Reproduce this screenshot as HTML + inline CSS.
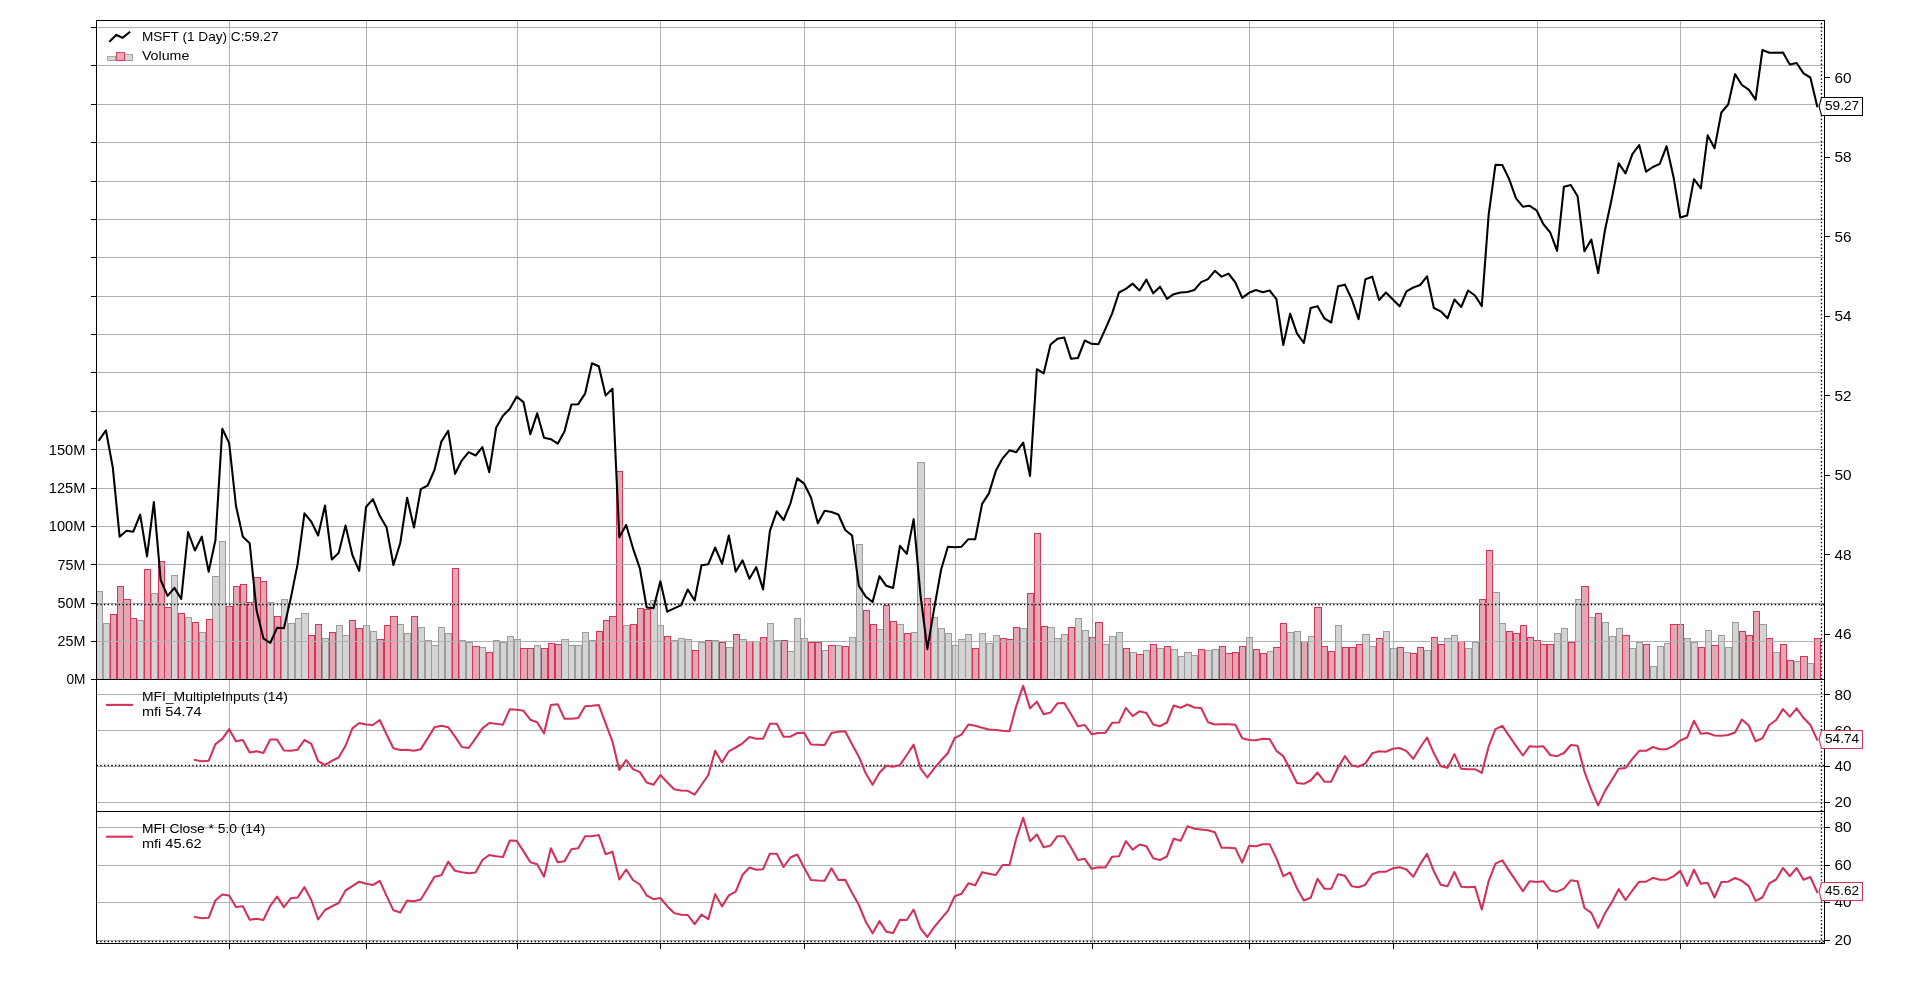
<!DOCTYPE html>
<html><head><meta charset="utf-8"><title>MSFT chart</title>
<style>html,body{margin:0;padding:0;background:#fff;overflow:hidden}svg{display:block}text{filter:grayscale(1)}</style></head>
<body>
<svg width="1920" height="993" viewBox="0 0 1920 993" font-family="'Liberation Sans', sans-serif">
<rect width="1920" height="993" fill="#fff"/>
<defs>
<clipPath id="c1"><rect x="96.5" y="20.5" width="1728.0" height="659.0"/></clipPath>
<clipPath id="c2"><rect x="96.5" y="679.5" width="1728.0" height="132.0"/></clipPath>
<clipPath id="c3"><rect x="96.5" y="811.5" width="1728.0" height="132.0"/></clipPath>
</defs>
<g clip-path="url(#c1)" shape-rendering="crispEdges">
<path d="M96.5 591.5H102.5V679.5H96.5ZM103.5 623.5H109.5V679.5H103.5ZM137.5 620.5H143.5V679.5H137.5ZM151.5 593.5H157.5V679.5H151.5ZM171.5 575.5H177.5V679.5H171.5ZM185.5 617.5H191.5V679.5H185.5ZM199.5 632.5H205.5V679.5H199.5ZM212.5 576.5H219.5V679.5H212.5ZM219.5 541.5H225.5V679.5H219.5ZM267.5 602.5H273.5V679.5H267.5ZM281.5 599.5H287.5V679.5H281.5ZM288.5 623.5H294.5V679.5H288.5ZM295.5 618.5H301.5V679.5H295.5ZM301.5 613.5H308.5V679.5H301.5ZM322.5 638.5H328.5V679.5H322.5ZM336.5 625.5H342.5V679.5H336.5ZM342.5 635.5H349.5V679.5H342.5ZM363.5 625.5H369.5V679.5H363.5ZM370.5 631.5H376.5V679.5H370.5ZM397.5 624.5H403.5V679.5H397.5ZM404.5 633.5H410.5V679.5H404.5ZM418.5 627.5H424.5V679.5H418.5ZM425.5 640.5H431.5V679.5H425.5ZM431.5 645.5H438.5V679.5H431.5ZM438.5 627.5H444.5V679.5H438.5ZM445.5 633.5H451.5V679.5H445.5ZM459.5 640.5H465.5V679.5H459.5ZM466.5 642.5H472.5V679.5H466.5ZM479.5 647.5H485.5V679.5H479.5ZM493.5 640.5H499.5V679.5H493.5ZM500.5 642.5H506.5V679.5H500.5ZM507.5 636.5H513.5V679.5H507.5ZM514.5 639.5H520.5V679.5H514.5ZM534.5 645.5H540.5V679.5H534.5ZM561.5 639.5H568.5V679.5H561.5ZM568.5 645.5H574.5V679.5H568.5ZM575.5 645.5H581.5V679.5H575.5ZM582.5 632.5H588.5V679.5H582.5ZM589.5 640.5H595.5V679.5H589.5ZM623.5 625.5H629.5V679.5H623.5ZM650.5 600.5H657.5V679.5H650.5ZM657.5 625.5H663.5V679.5H657.5ZM671.5 640.5H677.5V679.5H671.5ZM678.5 638.5H684.5V679.5H678.5ZM685.5 639.5H691.5V679.5H685.5ZM698.5 642.5H705.5V679.5H698.5ZM712.5 640.5H718.5V679.5H712.5ZM726.5 647.5H732.5V679.5H726.5ZM739.5 639.5H746.5V679.5H739.5ZM753.5 641.5H759.5V679.5H753.5ZM767.5 623.5H773.5V679.5H767.5ZM774.5 640.5H780.5V679.5H774.5ZM787.5 651.5H794.5V679.5H787.5ZM794.5 618.5H800.5V679.5H794.5ZM801.5 638.5H807.5V679.5H801.5ZM822.5 650.5H828.5V679.5H822.5ZM835.5 645.5H841.5V679.5H835.5ZM849.5 637.5H855.5V679.5H849.5ZM856.5 544.5H862.5V679.5H856.5ZM876.5 629.5H883.5V679.5H876.5ZM897.5 624.5H903.5V679.5H897.5ZM911.5 632.5H917.5V679.5H911.5ZM917.5 462.5H924.5V679.5H917.5ZM931.5 617.5H937.5V679.5H931.5ZM938.5 628.5H944.5V679.5H938.5ZM945.5 633.5H951.5V679.5H945.5ZM952.5 645.5H958.5V679.5H952.5ZM958.5 639.5H965.5V679.5H958.5ZM965.5 634.5H971.5V679.5H965.5ZM979.5 633.5H985.5V679.5H979.5ZM986.5 643.5H992.5V679.5H986.5ZM993.5 635.5H999.5V679.5H993.5ZM1020.5 628.5H1026.5V679.5H1020.5ZM1047.5 627.5H1054.5V679.5H1047.5ZM1054.5 638.5H1060.5V679.5H1054.5ZM1061.5 634.5H1067.5V679.5H1061.5ZM1075.5 618.5H1081.5V679.5H1075.5ZM1082.5 630.5H1088.5V679.5H1082.5ZM1102.5 644.5H1108.5V679.5H1102.5ZM1109.5 636.5H1115.5V679.5H1109.5ZM1116.5 632.5H1122.5V679.5H1116.5ZM1130.5 652.5H1136.5V679.5H1130.5ZM1143.5 650.5H1149.5V679.5H1143.5ZM1157.5 648.5H1163.5V679.5H1157.5ZM1171.5 649.5H1177.5V679.5H1171.5ZM1178.5 656.5H1184.5V679.5H1178.5ZM1184.5 652.5H1191.5V679.5H1184.5ZM1191.5 655.5H1197.5V679.5H1191.5ZM1205.5 650.5H1211.5V679.5H1205.5ZM1212.5 649.5H1218.5V679.5H1212.5ZM1246.5 637.5H1252.5V679.5H1246.5ZM1267.5 651.5H1273.5V679.5H1267.5ZM1287.5 632.5H1293.5V679.5H1287.5ZM1294.5 631.5H1300.5V679.5H1294.5ZM1308.5 636.5H1314.5V679.5H1308.5ZM1335.5 625.5H1341.5V679.5H1335.5ZM1362.5 634.5H1369.5V679.5H1362.5ZM1369.5 646.5H1375.5V679.5H1369.5ZM1383.5 631.5H1389.5V679.5H1383.5ZM1390.5 648.5H1396.5V679.5H1390.5ZM1403.5 652.5H1410.5V679.5H1403.5ZM1424.5 650.5H1430.5V679.5H1424.5ZM1444.5 638.5H1451.5V679.5H1444.5ZM1451.5 635.5H1457.5V679.5H1451.5ZM1465.5 648.5H1471.5V679.5H1465.5ZM1472.5 642.5H1478.5V679.5H1472.5ZM1492.5 592.5H1499.5V679.5H1492.5ZM1499.5 623.5H1505.5V679.5H1499.5ZM1554.5 633.5H1560.5V679.5H1554.5ZM1561.5 628.5H1567.5V679.5H1561.5ZM1575.5 599.5H1581.5V679.5H1575.5ZM1588.5 617.5H1594.5V679.5H1588.5ZM1602.5 622.5H1608.5V679.5H1602.5ZM1609.5 636.5H1615.5V679.5H1609.5ZM1616.5 628.5H1622.5V679.5H1616.5ZM1629.5 648.5H1635.5V679.5H1629.5ZM1636.5 642.5H1642.5V679.5H1636.5ZM1650.5 666.5H1656.5V679.5H1650.5ZM1657.5 646.5H1663.5V679.5H1657.5ZM1664.5 643.5H1670.5V679.5H1664.5ZM1684.5 638.5H1690.5V679.5H1684.5ZM1691.5 642.5H1697.5V679.5H1691.5ZM1705.5 630.5H1711.5V679.5H1705.5ZM1718.5 635.5H1724.5V679.5H1718.5ZM1725.5 647.5H1731.5V679.5H1725.5ZM1732.5 622.5H1738.5V679.5H1732.5ZM1759.5 624.5H1766.5V679.5H1759.5ZM1773.5 652.5H1779.5V679.5H1773.5ZM1794.5 661.5H1800.5V679.5H1794.5ZM1807.5 663.5H1813.5V679.5H1807.5Z" fill="rgba(170,170,170,0.5)"/>
<path d="M110.5 614.5H116.5V679.5H110.5ZM117.5 586.5H123.5V679.5H117.5ZM123.5 599.5H130.5V679.5H123.5ZM130.5 618.5H136.5V679.5H130.5ZM144.5 569.5H150.5V679.5H144.5ZM158.5 561.5H164.5V679.5H158.5ZM164.5 607.5H171.5V679.5H164.5ZM178.5 613.5H184.5V679.5H178.5ZM192.5 622.5H198.5V679.5H192.5ZM206.5 619.5H212.5V679.5H206.5ZM226.5 606.5H232.5V679.5H226.5ZM233.5 586.5H239.5V679.5H233.5ZM240.5 584.5H246.5V679.5H240.5ZM247.5 602.5H253.5V679.5H247.5ZM253.5 577.5H260.5V679.5H253.5ZM260.5 581.5H266.5V679.5H260.5ZM274.5 616.5H280.5V679.5H274.5ZM308.5 635.5H314.5V679.5H308.5ZM315.5 624.5H321.5V679.5H315.5ZM329.5 632.5H335.5V679.5H329.5ZM349.5 620.5H355.5V679.5H349.5ZM356.5 628.5H362.5V679.5H356.5ZM377.5 639.5H383.5V679.5H377.5ZM384.5 625.5H390.5V679.5H384.5ZM390.5 616.5H397.5V679.5H390.5ZM411.5 616.5H417.5V679.5H411.5ZM452.5 568.5H458.5V679.5H452.5ZM472.5 646.5H479.5V679.5H472.5ZM486.5 652.5H492.5V679.5H486.5ZM520.5 648.5H527.5V679.5H520.5ZM527.5 648.5H533.5V679.5H527.5ZM541.5 648.5H547.5V679.5H541.5ZM548.5 643.5H554.5V679.5H548.5ZM555.5 644.5H561.5V679.5H555.5ZM596.5 631.5H602.5V679.5H596.5ZM603.5 620.5H609.5V679.5H603.5ZM609.5 616.5H616.5V679.5H609.5ZM616.5 471.5H622.5V679.5H616.5ZM630.5 624.5H636.5V679.5H630.5ZM637.5 608.5H643.5V679.5H637.5ZM644.5 609.5H650.5V679.5H644.5ZM664.5 636.5H670.5V679.5H664.5ZM692.5 650.5H698.5V679.5H692.5ZM705.5 640.5H711.5V679.5H705.5ZM719.5 642.5H725.5V679.5H719.5ZM733.5 634.5H739.5V679.5H733.5ZM746.5 641.5H752.5V679.5H746.5ZM760.5 637.5H766.5V679.5H760.5ZM781.5 640.5H787.5V679.5H781.5ZM808.5 642.5H814.5V679.5H808.5ZM815.5 642.5H821.5V679.5H815.5ZM828.5 645.5H835.5V679.5H828.5ZM842.5 646.5H848.5V679.5H842.5ZM863.5 610.5H869.5V679.5H863.5ZM870.5 624.5H876.5V679.5H870.5ZM883.5 605.5H889.5V679.5H883.5ZM890.5 621.5H896.5V679.5H890.5ZM904.5 633.5H910.5V679.5H904.5ZM924.5 598.5H930.5V679.5H924.5ZM972.5 648.5H978.5V679.5H972.5ZM1000.5 638.5H1006.5V679.5H1000.5ZM1006.5 639.5H1013.5V679.5H1006.5ZM1013.5 627.5H1019.5V679.5H1013.5ZM1027.5 593.5H1033.5V679.5H1027.5ZM1034.5 533.5H1040.5V679.5H1034.5ZM1041.5 626.5H1047.5V679.5H1041.5ZM1068.5 627.5H1074.5V679.5H1068.5ZM1089.5 637.5H1095.5V679.5H1089.5ZM1095.5 622.5H1102.5V679.5H1095.5ZM1123.5 648.5H1129.5V679.5H1123.5ZM1136.5 654.5H1143.5V679.5H1136.5ZM1150.5 644.5H1156.5V679.5H1150.5ZM1164.5 646.5H1170.5V679.5H1164.5ZM1198.5 649.5H1204.5V679.5H1198.5ZM1219.5 646.5H1225.5V679.5H1219.5ZM1225.5 653.5H1232.5V679.5H1225.5ZM1232.5 652.5H1238.5V679.5H1232.5ZM1239.5 646.5H1245.5V679.5H1239.5ZM1253.5 649.5H1259.5V679.5H1253.5ZM1260.5 653.5H1266.5V679.5H1260.5ZM1273.5 647.5H1280.5V679.5H1273.5ZM1280.5 623.5H1286.5V679.5H1280.5ZM1301.5 641.5H1307.5V679.5H1301.5ZM1314.5 607.5H1321.5V679.5H1314.5ZM1321.5 646.5H1327.5V679.5H1321.5ZM1328.5 651.5H1334.5V679.5H1328.5ZM1342.5 647.5H1348.5V679.5H1342.5ZM1349.5 647.5H1355.5V679.5H1349.5ZM1356.5 644.5H1362.5V679.5H1356.5ZM1376.5 638.5H1382.5V679.5H1376.5ZM1397.5 647.5H1403.5V679.5H1397.5ZM1410.5 653.5H1416.5V679.5H1410.5ZM1417.5 647.5H1423.5V679.5H1417.5ZM1431.5 637.5H1437.5V679.5H1431.5ZM1438.5 644.5H1444.5V679.5H1438.5ZM1458.5 641.5H1464.5V679.5H1458.5ZM1479.5 599.5H1485.5V679.5H1479.5ZM1486.5 550.5H1492.5V679.5H1486.5ZM1506.5 631.5H1512.5V679.5H1506.5ZM1513.5 633.5H1519.5V679.5H1513.5ZM1520.5 625.5H1526.5V679.5H1520.5ZM1527.5 637.5H1533.5V679.5H1527.5ZM1533.5 640.5H1540.5V679.5H1533.5ZM1540.5 644.5H1546.5V679.5H1540.5ZM1547.5 644.5H1553.5V679.5H1547.5ZM1568.5 642.5H1574.5V679.5H1568.5ZM1581.5 586.5H1588.5V679.5H1581.5ZM1595.5 613.5H1601.5V679.5H1595.5ZM1622.5 635.5H1629.5V679.5H1622.5ZM1643.5 644.5H1649.5V679.5H1643.5ZM1670.5 624.5H1677.5V679.5H1670.5ZM1677.5 624.5H1683.5V679.5H1677.5ZM1698.5 647.5H1704.5V679.5H1698.5ZM1711.5 645.5H1718.5V679.5H1711.5ZM1739.5 631.5H1745.5V679.5H1739.5ZM1746.5 635.5H1752.5V679.5H1746.5ZM1753.5 611.5H1759.5V679.5H1753.5ZM1766.5 638.5H1772.5V679.5H1766.5ZM1780.5 644.5H1786.5V679.5H1780.5ZM1787.5 660.5H1793.5V679.5H1787.5ZM1800.5 656.5H1807.5V679.5H1800.5ZM1814.5 638.5H1820.5V679.5H1814.5Z" fill="rgba(204,80,105,0.5)"/>
<path d="M96.5 679.5V591.5H102.5V679.5M103.5 679.5V623.5H109.5V679.5M137.5 679.5V620.5H143.5V679.5M151.5 679.5V593.5H157.5V679.5M171.5 679.5V575.5H177.5V679.5M185.5 679.5V617.5H191.5V679.5M199.5 679.5V632.5H205.5V679.5M212.5 679.5V576.5H219.5V679.5M219.5 679.5V541.5H225.5V679.5M267.5 679.5V602.5H273.5V679.5M281.5 679.5V599.5H287.5V679.5M288.5 679.5V623.5H294.5V679.5M295.5 679.5V618.5H301.5V679.5M301.5 679.5V613.5H308.5V679.5M322.5 679.5V638.5H328.5V679.5M336.5 679.5V625.5H342.5V679.5M342.5 679.5V635.5H349.5V679.5M363.5 679.5V625.5H369.5V679.5M370.5 679.5V631.5H376.5V679.5M397.5 679.5V624.5H403.5V679.5M404.5 679.5V633.5H410.5V679.5M418.5 679.5V627.5H424.5V679.5M425.5 679.5V640.5H431.5V679.5M431.5 679.5V645.5H438.5V679.5M438.5 679.5V627.5H444.5V679.5M445.5 679.5V633.5H451.5V679.5M459.5 679.5V640.5H465.5V679.5M466.5 679.5V642.5H472.5V679.5M479.5 679.5V647.5H485.5V679.5M493.5 679.5V640.5H499.5V679.5M500.5 679.5V642.5H506.5V679.5M507.5 679.5V636.5H513.5V679.5M514.5 679.5V639.5H520.5V679.5M534.5 679.5V645.5H540.5V679.5M561.5 679.5V639.5H568.5V679.5M568.5 679.5V645.5H574.5V679.5M575.5 679.5V645.5H581.5V679.5M582.5 679.5V632.5H588.5V679.5M589.5 679.5V640.5H595.5V679.5M623.5 679.5V625.5H629.5V679.5M650.5 679.5V600.5H657.5V679.5M657.5 679.5V625.5H663.5V679.5M671.5 679.5V640.5H677.5V679.5M678.5 679.5V638.5H684.5V679.5M685.5 679.5V639.5H691.5V679.5M698.5 679.5V642.5H705.5V679.5M712.5 679.5V640.5H718.5V679.5M726.5 679.5V647.5H732.5V679.5M739.5 679.5V639.5H746.5V679.5M753.5 679.5V641.5H759.5V679.5M767.5 679.5V623.5H773.5V679.5M774.5 679.5V640.5H780.5V679.5M787.5 679.5V651.5H794.5V679.5M794.5 679.5V618.5H800.5V679.5M801.5 679.5V638.5H807.5V679.5M822.5 679.5V650.5H828.5V679.5M835.5 679.5V645.5H841.5V679.5M849.5 679.5V637.5H855.5V679.5M856.5 679.5V544.5H862.5V679.5M876.5 679.5V629.5H883.5V679.5M897.5 679.5V624.5H903.5V679.5M911.5 679.5V632.5H917.5V679.5M917.5 679.5V462.5H924.5V679.5M931.5 679.5V617.5H937.5V679.5M938.5 679.5V628.5H944.5V679.5M945.5 679.5V633.5H951.5V679.5M952.5 679.5V645.5H958.5V679.5M958.5 679.5V639.5H965.5V679.5M965.5 679.5V634.5H971.5V679.5M979.5 679.5V633.5H985.5V679.5M986.5 679.5V643.5H992.5V679.5M993.5 679.5V635.5H999.5V679.5M1020.5 679.5V628.5H1026.5V679.5M1047.5 679.5V627.5H1054.5V679.5M1054.5 679.5V638.5H1060.5V679.5M1061.5 679.5V634.5H1067.5V679.5M1075.5 679.5V618.5H1081.5V679.5M1082.5 679.5V630.5H1088.5V679.5M1102.5 679.5V644.5H1108.5V679.5M1109.5 679.5V636.5H1115.5V679.5M1116.5 679.5V632.5H1122.5V679.5M1130.5 679.5V652.5H1136.5V679.5M1143.5 679.5V650.5H1149.5V679.5M1157.5 679.5V648.5H1163.5V679.5M1171.5 679.5V649.5H1177.5V679.5M1178.5 679.5V656.5H1184.5V679.5M1184.5 679.5V652.5H1191.5V679.5M1191.5 679.5V655.5H1197.5V679.5M1205.5 679.5V650.5H1211.5V679.5M1212.5 679.5V649.5H1218.5V679.5M1246.5 679.5V637.5H1252.5V679.5M1267.5 679.5V651.5H1273.5V679.5M1287.5 679.5V632.5H1293.5V679.5M1294.5 679.5V631.5H1300.5V679.5M1308.5 679.5V636.5H1314.5V679.5M1335.5 679.5V625.5H1341.5V679.5M1362.5 679.5V634.5H1369.5V679.5M1369.5 679.5V646.5H1375.5V679.5M1383.5 679.5V631.5H1389.5V679.5M1390.5 679.5V648.5H1396.5V679.5M1403.5 679.5V652.5H1410.5V679.5M1424.5 679.5V650.5H1430.5V679.5M1444.5 679.5V638.5H1451.5V679.5M1451.5 679.5V635.5H1457.5V679.5M1465.5 679.5V648.5H1471.5V679.5M1472.5 679.5V642.5H1478.5V679.5M1492.5 679.5V592.5H1499.5V679.5M1499.5 679.5V623.5H1505.5V679.5M1554.5 679.5V633.5H1560.5V679.5M1561.5 679.5V628.5H1567.5V679.5M1575.5 679.5V599.5H1581.5V679.5M1588.5 679.5V617.5H1594.5V679.5M1602.5 679.5V622.5H1608.5V679.5M1609.5 679.5V636.5H1615.5V679.5M1616.5 679.5V628.5H1622.5V679.5M1629.5 679.5V648.5H1635.5V679.5M1636.5 679.5V642.5H1642.5V679.5M1650.5 679.5V666.5H1656.5V679.5M1657.5 679.5V646.5H1663.5V679.5M1664.5 679.5V643.5H1670.5V679.5M1684.5 679.5V638.5H1690.5V679.5M1691.5 679.5V642.5H1697.5V679.5M1705.5 679.5V630.5H1711.5V679.5M1718.5 679.5V635.5H1724.5V679.5M1725.5 679.5V647.5H1731.5V679.5M1732.5 679.5V622.5H1738.5V679.5M1759.5 679.5V624.5H1766.5V679.5M1773.5 679.5V652.5H1779.5V679.5M1794.5 679.5V661.5H1800.5V679.5M1807.5 679.5V663.5H1813.5V679.5" fill="none" stroke="#9c9c9c" stroke-width="1"/>
<path d="M110.5 679.5V614.5H116.5V679.5M117.5 679.5V586.5H123.5V679.5M123.5 679.5V599.5H130.5V679.5M130.5 679.5V618.5H136.5V679.5M144.5 679.5V569.5H150.5V679.5M158.5 679.5V561.5H164.5V679.5M164.5 679.5V607.5H171.5V679.5M178.5 679.5V613.5H184.5V679.5M192.5 679.5V622.5H198.5V679.5M206.5 679.5V619.5H212.5V679.5M226.5 679.5V606.5H232.5V679.5M233.5 679.5V586.5H239.5V679.5M240.5 679.5V584.5H246.5V679.5M247.5 679.5V602.5H253.5V679.5M253.5 679.5V577.5H260.5V679.5M260.5 679.5V581.5H266.5V679.5M274.5 679.5V616.5H280.5V679.5M308.5 679.5V635.5H314.5V679.5M315.5 679.5V624.5H321.5V679.5M329.5 679.5V632.5H335.5V679.5M349.5 679.5V620.5H355.5V679.5M356.5 679.5V628.5H362.5V679.5M377.5 679.5V639.5H383.5V679.5M384.5 679.5V625.5H390.5V679.5M390.5 679.5V616.5H397.5V679.5M411.5 679.5V616.5H417.5V679.5M452.5 679.5V568.5H458.5V679.5M472.5 679.5V646.5H479.5V679.5M486.5 679.5V652.5H492.5V679.5M520.5 679.5V648.5H527.5V679.5M527.5 679.5V648.5H533.5V679.5M541.5 679.5V648.5H547.5V679.5M548.5 679.5V643.5H554.5V679.5M555.5 679.5V644.5H561.5V679.5M596.5 679.5V631.5H602.5V679.5M603.5 679.5V620.5H609.5V679.5M609.5 679.5V616.5H616.5V679.5M616.5 679.5V471.5H622.5V679.5M630.5 679.5V624.5H636.5V679.5M637.5 679.5V608.5H643.5V679.5M644.5 679.5V609.5H650.5V679.5M664.5 679.5V636.5H670.5V679.5M692.5 679.5V650.5H698.5V679.5M705.5 679.5V640.5H711.5V679.5M719.5 679.5V642.5H725.5V679.5M733.5 679.5V634.5H739.5V679.5M746.5 679.5V641.5H752.5V679.5M760.5 679.5V637.5H766.5V679.5M781.5 679.5V640.5H787.5V679.5M808.5 679.5V642.5H814.5V679.5M815.5 679.5V642.5H821.5V679.5M828.5 679.5V645.5H835.5V679.5M842.5 679.5V646.5H848.5V679.5M863.5 679.5V610.5H869.5V679.5M870.5 679.5V624.5H876.5V679.5M883.5 679.5V605.5H889.5V679.5M890.5 679.5V621.5H896.5V679.5M904.5 679.5V633.5H910.5V679.5M924.5 679.5V598.5H930.5V679.5M972.5 679.5V648.5H978.5V679.5M1000.5 679.5V638.5H1006.5V679.5M1006.5 679.5V639.5H1013.5V679.5M1013.5 679.5V627.5H1019.5V679.5M1027.5 679.5V593.5H1033.5V679.5M1034.5 679.5V533.5H1040.5V679.5M1041.5 679.5V626.5H1047.5V679.5M1068.5 679.5V627.5H1074.5V679.5M1089.5 679.5V637.5H1095.5V679.5M1095.5 679.5V622.5H1102.5V679.5M1123.5 679.5V648.5H1129.5V679.5M1136.5 679.5V654.5H1143.5V679.5M1150.5 679.5V644.5H1156.5V679.5M1164.5 679.5V646.5H1170.5V679.5M1198.5 679.5V649.5H1204.5V679.5M1219.5 679.5V646.5H1225.5V679.5M1225.5 679.5V653.5H1232.5V679.5M1232.5 679.5V652.5H1238.5V679.5M1239.5 679.5V646.5H1245.5V679.5M1253.5 679.5V649.5H1259.5V679.5M1260.5 679.5V653.5H1266.5V679.5M1273.5 679.5V647.5H1280.5V679.5M1280.5 679.5V623.5H1286.5V679.5M1301.5 679.5V641.5H1307.5V679.5M1314.5 679.5V607.5H1321.5V679.5M1321.5 679.5V646.5H1327.5V679.5M1328.5 679.5V651.5H1334.5V679.5M1342.5 679.5V647.5H1348.5V679.5M1349.5 679.5V647.5H1355.5V679.5M1356.5 679.5V644.5H1362.5V679.5M1376.5 679.5V638.5H1382.5V679.5M1397.5 679.5V647.5H1403.5V679.5M1410.5 679.5V653.5H1416.5V679.5M1417.5 679.5V647.5H1423.5V679.5M1431.5 679.5V637.5H1437.5V679.5M1438.5 679.5V644.5H1444.5V679.5M1458.5 679.5V641.5H1464.5V679.5M1479.5 679.5V599.5H1485.5V679.5M1486.5 679.5V550.5H1492.5V679.5M1506.5 679.5V631.5H1512.5V679.5M1513.5 679.5V633.5H1519.5V679.5M1520.5 679.5V625.5H1526.5V679.5M1527.5 679.5V637.5H1533.5V679.5M1533.5 679.5V640.5H1540.5V679.5M1540.5 679.5V644.5H1546.5V679.5M1547.5 679.5V644.5H1553.5V679.5M1568.5 679.5V642.5H1574.5V679.5M1581.5 679.5V586.5H1588.5V679.5M1595.5 679.5V613.5H1601.5V679.5M1622.5 679.5V635.5H1629.5V679.5M1643.5 679.5V644.5H1649.5V679.5M1670.5 679.5V624.5H1677.5V679.5M1677.5 679.5V624.5H1683.5V679.5M1698.5 679.5V647.5H1704.5V679.5M1711.5 679.5V645.5H1718.5V679.5M1739.5 679.5V631.5H1745.5V679.5M1746.5 679.5V635.5H1752.5V679.5M1753.5 679.5V611.5H1759.5V679.5M1766.5 679.5V638.5H1772.5V679.5M1780.5 679.5V644.5H1786.5V679.5M1787.5 679.5V660.5H1793.5V679.5M1800.5 679.5V656.5H1807.5V679.5M1814.5 679.5V638.5H1820.5V679.5" fill="none" stroke="#d4365a" stroke-width="1"/>
</g>
<g stroke="#b0b0b0" stroke-width="1.1" shape-rendering="crispEdges">
<path d="M229.5 20.5V943.5"/>
<path d="M366.5 20.5V943.5"/>
<path d="M517.5 20.5V943.5"/>
<path d="M660.5 20.5V943.5"/>
<path d="M804.5 20.5V943.5"/>
<path d="M955.5 20.5V943.5"/>
<path d="M1092.5 20.5V943.5"/>
<path d="M1249.5 20.5V943.5"/>
<path d="M1393.5 20.5V943.5"/>
<path d="M1537.5 20.5V943.5"/>
<path d="M1680.5 20.5V943.5"/>
<path d="M96.5 641.5H1824.5"/>
<path d="M96.5 603.5H1824.5"/>
<path d="M96.5 564.5H1824.5"/>
<path d="M96.5 526.5H1824.5"/>
<path d="M96.5 488.5H1824.5"/>
<path d="M96.5 449.5H1824.5"/>
<path d="M96.5 411.5H1824.5"/>
<path d="M96.5 372.5H1824.5"/>
<path d="M96.5 334.5H1824.5"/>
<path d="M96.5 296.5H1824.5"/>
<path d="M96.5 257.5H1824.5"/>
<path d="M96.5 219.5H1824.5"/>
<path d="M96.5 181.5H1824.5"/>
<path d="M96.5 142.5H1824.5"/>
<path d="M96.5 104.5H1824.5"/>
<path d="M96.5 65.5H1824.5"/>
<path d="M96.5 27.5H1824.5"/>
<path d="M96.5 694.5H1824.5"/>
<path d="M96.5 730.5H1824.5"/>
<path d="M96.5 766.5H1824.5"/>
<path d="M96.5 802.5H1824.5"/>
<path d="M96.5 827.5H1824.5"/>
<path d="M96.5 865.5H1824.5"/>
<path d="M96.5 902.5H1824.5"/>
<path d="M96.5 940.5H1824.5"/>
</g>
<path d="M96.6 604.47H1824.5" stroke="#000" stroke-width="1.39" stroke-dasharray="1.39 2.29" fill="none"/>
<path d="M96.6 765.5H1824.5" stroke="#000" stroke-width="1.39" stroke-dasharray="1.39 2.29" fill="none"/>
<path d="M96.6 941.44H1824.5" stroke="#000" stroke-width="1.39" stroke-dasharray="1.39 2.29" fill="none"/>
<path d="M1821.45 679.5V20.5" stroke="#000" stroke-width="1.39" stroke-dasharray="1.39 2.29" fill="none"/>
<path d="M1821.45 811.43V679.5" stroke="#000" stroke-width="1.39" stroke-dasharray="1.39 2.29" fill="none"/>
<path d="M1821.45 943.35V811.5" stroke="#000" stroke-width="1.39" stroke-dasharray="1.39 2.29" fill="none"/>
<polyline clip-path="url(#c1)" points="99.10,440.00 105.94,430.40 112.79,467.50 119.63,536.67 126.48,530.83 133.32,531.67 140.17,514.67 147.01,556.33 153.86,502.00 160.70,580.00 167.55,595.83 174.39,587.83 181.24,598.83 188.08,532.00 194.93,550.50 201.77,536.67 208.62,571.67 215.46,540.00 222.31,428.75 229.16,443.10 236.00,506.00 242.84,536.67 249.69,543.33 256.53,610.00 263.38,638.33 270.23,643.00 277.07,627.83 283.91,628.33 290.76,598.33 297.61,564.17 304.45,513.33 311.29,521.67 318.14,535.50 324.99,505.50 331.83,559.50 338.67,553.00 345.52,525.50 352.37,555.00 359.21,570.83 366.05,507.00 372.90,499.17 379.75,515.83 386.59,527.50 393.43,565.00 400.28,543.00 407.12,497.80 413.97,527.50 420.81,489.17 427.66,485.50 434.50,470.00 441.35,441.67 448.19,430.83 455.04,473.83 461.88,460.33 468.73,452.17 475.57,455.50 482.42,447.17 489.26,472.17 496.11,427.83 502.95,415.83 509.80,408.83 516.64,396.67 523.49,402.17 530.33,434.17 537.18,413.33 544.02,437.83 550.87,439.17 557.72,443.67 564.56,431.17 571.40,404.50 578.25,404.17 585.10,393.67 591.94,363.33 598.78,366.17 605.63,395.50 612.48,388.83 619.32,537.17 626.16,525.00 633.01,548.33 639.86,568.33 646.70,607.50 653.54,608.33 660.39,581.33 667.24,611.67 674.08,608.33 680.92,605.33 687.77,589.50 694.62,600.50 701.46,565.33 708.30,564.17 715.15,547.50 722.00,563.67 728.84,535.50 735.68,571.67 742.53,560.33 749.38,578.67 756.22,567.17 763.07,589.50 769.91,530.83 776.75,511.33 783.60,520.00 790.45,503.33 797.29,478.33 804.13,483.67 810.98,497.50 817.83,523.33 824.67,510.83 831.51,512.00 838.36,514.50 845.21,530.00 852.05,535.50 858.89,585.83 865.74,596.67 872.59,602.00 879.43,576.17 886.27,585.83 893.12,588.00 899.97,545.83 906.81,553.83 913.65,519.17 920.50,595.00 927.35,649.17 934.19,608.33 941.03,570.00 947.88,546.67 954.73,547.17 961.57,546.67 968.41,539.17 975.26,539.17 982.11,503.83 988.95,493.33 995.79,470.83 1002.64,458.33 1009.49,450.33 1016.33,452.17 1023.17,442.50 1030.02,475.83 1036.87,369.17 1043.71,373.33 1050.55,344.50 1057.40,338.83 1064.24,337.50 1071.09,358.83 1077.93,358.00 1084.78,340.50 1091.62,343.83 1098.47,344.17 1105.31,329.17 1112.16,313.33 1119.00,292.50 1125.85,288.83 1132.69,283.67 1139.54,290.50 1146.38,279.67 1153.23,293.33 1160.07,286.67 1166.92,298.83 1173.76,294.17 1180.61,292.50 1187.45,292.00 1194.30,290.00 1201.14,282.17 1207.99,279.17 1214.83,270.83 1221.68,276.67 1228.52,273.67 1235.37,282.50 1242.21,297.83 1249.06,292.83 1255.90,290.00 1262.75,292.17 1269.59,290.50 1276.44,299.17 1283.28,345.00 1290.13,313.67 1296.97,333.33 1303.82,343.00 1310.66,308.00 1317.51,306.17 1324.35,318.33 1331.20,322.50 1338.04,286.33 1344.89,284.67 1351.73,299.17 1358.58,319.17 1365.42,279.17 1372.27,276.67 1379.11,300.00 1385.96,292.50 1392.80,299.50 1399.65,306.33 1406.49,291.33 1413.34,287.50 1420.18,285.00 1427.03,276.33 1433.87,308.00 1440.72,311.33 1447.56,318.33 1454.41,299.50 1461.25,307.00 1468.10,290.50 1474.94,295.50 1481.79,306.17 1488.63,215.00 1495.48,164.67 1502.32,165.00 1509.17,179.17 1516.01,198.33 1522.86,206.67 1529.70,205.83 1536.55,210.33 1543.39,224.17 1550.24,232.50 1557.08,250.83 1563.93,186.67 1570.77,185.00 1577.62,196.33 1584.46,251.33 1591.31,239.50 1598.15,273.00 1605.00,230.00 1611.84,198.33 1618.69,163.33 1625.53,173.33 1632.38,154.17 1639.22,145.00 1646.07,171.67 1652.91,167.00 1659.76,163.83 1666.60,146.17 1673.45,176.67 1680.29,217.50 1687.14,215.50 1693.98,179.17 1700.83,188.33 1707.67,135.33 1714.52,148.33 1721.36,112.50 1728.21,104.50 1735.05,74.17 1741.90,85.00 1748.74,89.67 1755.59,99.67 1762.43,50.00 1769.28,52.83 1776.12,52.83 1782.97,52.50 1789.81,64.50 1796.66,63.00 1803.50,73.33 1810.35,77.50 1817.19,106.33" fill="none" stroke="#000" stroke-width="2.08" stroke-linejoin="round" stroke-linecap="square"/>
<polyline clip-path="url(#c2)" points="194.93,760.00 201.77,761.17 208.62,760.83 215.46,744.17 222.31,738.83 229.16,729.17 236.00,741.33 242.84,740.00 249.69,752.50 256.53,751.33 263.38,753.00 270.23,739.50 277.07,739.50 283.91,750.50 290.76,750.83 297.61,749.67 304.45,740.00 311.29,743.83 318.14,761.17 324.99,765.00 331.83,760.83 338.67,757.50 345.52,745.83 352.37,728.33 359.21,723.00 366.05,724.50 372.90,725.00 379.75,720.00 386.59,734.50 393.43,748.33 400.28,750.00 407.12,749.67 413.97,750.83 420.81,749.17 427.66,738.33 434.50,727.17 441.35,725.83 448.19,727.17 455.04,736.67 461.88,747.00 468.73,748.00 475.57,738.33 482.42,728.33 489.26,723.00 496.11,723.83 502.95,724.67 509.80,709.17 516.64,709.67 523.49,710.83 530.33,719.67 537.18,722.17 544.02,733.33 550.87,705.00 557.72,704.17 564.56,718.83 571.40,718.67 578.25,718.00 585.10,706.17 591.94,705.83 598.78,705.00 605.63,723.33 612.48,741.67 619.32,770.00 626.16,760.00 633.01,769.17 639.86,772.17 646.70,782.50 653.54,784.67 660.39,775.00 667.24,782.17 674.08,789.17 680.92,790.50 687.77,790.83 694.62,794.67 701.46,785.00 708.30,775.00 715.15,750.83 722.00,762.50 728.84,751.33 735.68,747.50 742.53,743.33 749.38,737.00 756.22,738.67 763.07,738.83 769.91,723.83 776.75,723.83 783.60,736.67 790.45,736.67 797.29,733.00 804.13,732.83 810.98,744.50 817.83,744.67 824.67,745.00 831.51,733.00 838.36,731.67 845.21,731.17 852.05,744.17 858.89,756.67 865.74,773.33 872.59,784.67 879.43,772.83 886.27,765.83 893.12,766.67 899.97,765.00 906.81,755.00 913.65,744.67 920.50,768.33 927.35,777.50 934.19,768.33 941.03,760.50 947.88,753.00 954.73,738.00 961.57,734.67 968.41,724.50 975.26,725.83 982.11,727.83 988.95,729.50 995.79,730.00 1002.64,730.83 1009.49,731.17 1016.33,705.83 1023.17,685.83 1030.02,708.33 1036.87,701.67 1043.71,714.17 1050.55,712.50 1057.40,703.33 1064.24,703.00 1071.09,714.17 1077.93,726.17 1084.78,725.00 1091.62,734.17 1098.47,733.00 1105.31,732.83 1112.16,722.83 1119.00,722.50 1125.85,707.83 1132.69,716.17 1139.54,711.33 1146.38,713.00 1153.23,724.50 1160.07,726.17 1166.92,722.50 1173.76,705.50 1180.61,707.83 1187.45,704.50 1194.30,707.50 1201.14,708.00 1207.99,722.17 1214.83,724.50 1221.68,724.17 1228.52,724.17 1235.37,724.67 1242.21,738.33 1249.06,740.00 1255.90,740.33 1262.75,738.67 1269.59,739.00 1276.44,750.83 1283.28,756.17 1290.13,769.17 1296.97,783.00 1303.82,783.83 1310.66,780.50 1317.51,772.50 1324.35,781.67 1331.20,781.67 1338.04,767.50 1344.89,756.17 1351.73,765.50 1358.58,766.67 1365.42,763.33 1372.27,753.33 1379.11,751.33 1385.96,751.67 1392.80,748.83 1399.65,748.00 1406.49,751.17 1413.34,758.83 1420.18,747.50 1427.03,737.50 1433.87,753.33 1440.72,766.33 1447.56,767.83 1454.41,754.17 1461.25,768.83 1468.10,769.17 1474.94,769.17 1481.79,772.83 1488.63,746.67 1495.48,729.17 1502.32,725.83 1509.17,735.83 1516.01,745.83 1522.86,755.50 1529.70,746.17 1536.55,746.67 1543.39,746.33 1550.24,755.00 1557.08,756.17 1563.93,753.00 1570.77,745.00 1577.62,745.83 1584.46,771.67 1591.31,790.00 1598.15,805.33 1605.00,790.83 1611.84,780.00 1618.69,768.67 1625.53,768.00 1632.38,758.83 1639.22,750.83 1646.07,750.83 1652.91,747.00 1659.76,749.17 1666.60,749.17 1673.45,745.83 1680.29,740.50 1687.14,737.50 1693.98,720.83 1700.83,733.83 1707.67,733.00 1714.52,735.50 1721.36,735.83 1728.21,735.00 1735.05,732.50 1741.90,719.50 1748.74,725.50 1755.59,741.17 1762.43,738.33 1769.28,725.00 1776.12,720.00 1782.97,709.17 1789.81,716.67 1796.66,708.33 1803.50,717.83 1810.35,725.00 1817.19,739.67" fill="none" stroke="#d33258" stroke-width="2.08" stroke-linejoin="round" stroke-linecap="square"/>
<polyline clip-path="url(#c3)" points="194.93,917.00 201.77,918.33 208.62,917.83 215.46,900.50 222.31,894.50 229.16,895.50 236.00,907.00 242.84,906.33 249.69,919.67 256.53,918.83 263.38,920.00 270.23,905.83 277.07,896.67 283.91,907.17 290.76,898.33 297.61,897.50 304.45,887.17 311.29,900.00 318.14,919.50 324.99,910.00 331.83,906.33 338.67,903.00 345.52,890.50 352.37,886.17 359.21,881.67 366.05,883.67 372.90,885.00 379.75,880.83 386.59,895.83 393.43,910.33 400.28,912.50 407.12,900.50 413.97,901.33 420.81,899.50 427.66,888.33 434.50,876.67 441.35,875.33 448.19,861.67 455.04,870.83 461.88,872.17 468.73,873.33 475.57,872.50 482.42,860.00 489.26,855.00 496.11,856.17 502.95,857.00 509.80,840.50 516.64,840.83 523.49,851.17 530.33,862.17 537.18,864.17 544.02,876.67 550.87,848.33 557.72,862.17 564.56,861.17 571.40,849.17 578.25,848.33 585.10,836.17 591.94,836.17 598.78,835.00 605.63,854.17 612.48,851.67 619.32,879.50 626.16,869.50 633.01,880.00 639.86,884.50 646.70,895.50 653.54,899.17 660.39,898.00 667.24,906.17 674.08,913.00 680.92,914.67 687.77,915.00 694.62,924.17 701.46,914.67 708.30,919.17 715.15,894.17 722.00,906.33 728.84,895.33 735.68,891.67 742.53,875.00 749.38,867.50 756.22,869.67 763.07,869.17 769.91,853.67 776.75,853.83 783.60,867.00 790.45,857.50 797.29,854.50 804.13,867.83 810.98,880.00 817.83,880.50 824.67,880.83 831.51,868.33 838.36,880.00 845.21,879.67 852.05,892.83 858.89,905.00 865.74,921.67 872.59,933.33 879.43,921.17 886.27,931.67 893.12,933.00 899.97,919.67 906.81,920.00 913.65,909.50 920.50,928.33 927.35,937.00 934.19,927.17 941.03,918.83 947.88,910.83 954.73,896.17 961.57,893.67 968.41,883.33 975.26,885.33 982.11,872.17 988.95,873.83 995.79,875.00 1002.64,865.00 1009.49,865.00 1016.33,838.33 1023.17,817.83 1030.02,841.17 1036.87,834.50 1043.71,847.17 1050.55,845.50 1057.40,836.17 1064.24,836.17 1071.09,847.50 1077.93,860.00 1084.78,858.83 1091.62,868.83 1098.47,867.17 1105.31,867.50 1112.16,856.67 1119.00,856.33 1125.85,841.17 1132.69,849.67 1139.54,844.50 1146.38,846.17 1153.23,858.33 1160.07,860.00 1166.92,856.33 1173.76,838.67 1180.61,840.83 1187.45,826.33 1194.30,828.83 1201.14,829.50 1207.99,830.33 1214.83,832.17 1221.68,847.83 1228.52,847.83 1235.37,848.33 1242.21,862.50 1249.06,845.83 1255.90,846.17 1262.75,844.17 1269.59,844.17 1276.44,858.33 1283.28,876.17 1290.13,872.50 1296.97,888.33 1303.82,900.50 1310.66,897.83 1317.51,878.83 1324.35,888.67 1331.20,888.83 1338.04,874.17 1344.89,875.83 1351.73,886.17 1358.58,887.17 1365.42,884.67 1372.27,874.17 1379.11,871.67 1385.96,871.67 1392.80,868.33 1399.65,867.17 1406.49,869.50 1413.34,876.67 1420.18,864.17 1427.03,853.83 1433.87,871.33 1440.72,884.67 1447.56,886.17 1454.41,872.00 1461.25,886.67 1468.10,887.17 1474.94,886.67 1481.79,909.50 1488.63,881.17 1495.48,863.67 1502.32,860.33 1509.17,870.83 1516.01,880.83 1522.86,891.17 1529.70,881.17 1536.55,882.00 1543.39,881.33 1550.24,890.50 1557.08,891.67 1563.93,888.67 1570.77,880.33 1577.62,881.17 1584.46,908.00 1591.31,912.83 1598.15,927.83 1605.00,913.33 1611.84,902.17 1618.69,889.17 1625.53,900.00 1632.38,890.50 1639.22,881.67 1646.07,881.67 1652.91,877.83 1659.76,879.67 1666.60,879.67 1673.45,876.33 1680.29,870.83 1687.14,885.83 1693.98,869.67 1700.83,883.67 1707.67,882.83 1714.52,897.50 1721.36,882.00 1728.21,881.67 1735.05,878.00 1741.90,880.83 1748.74,886.17 1755.59,900.83 1762.43,897.50 1769.28,883.33 1776.12,879.50 1782.97,868.00 1789.81,876.17 1796.66,868.00 1803.50,879.67 1810.35,877.00 1817.19,892.00" fill="none" stroke="#d33258" stroke-width="2.08" stroke-linejoin="round" stroke-linecap="square"/>
<g stroke="#000" stroke-width="1.1" fill="none" shape-rendering="crispEdges">
<rect x="96.5" y="20.5" width="1728.0" height="659.0"/>
<rect x="96.5" y="20.5" width="1728.0" height="659.0" stroke-opacity="0.5"/>
<rect x="96.5" y="679.5" width="1728.0" height="132.0"/>
<rect x="96.5" y="811.5" width="1728.0" height="132.0"/>
<path d="M91.1 641.5H96.5"/>
<path d="M91.1 603.5H96.5"/>
<path d="M91.1 564.5H96.5"/>
<path d="M91.1 526.5H96.5"/>
<path d="M91.1 488.5H96.5"/>
<path d="M91.1 449.5H96.5"/>
<path d="M91.1 411.5H96.5"/>
<path d="M91.1 372.5H96.5"/>
<path d="M91.1 334.5H96.5"/>
<path d="M91.1 296.5H96.5"/>
<path d="M91.1 257.5H96.5"/>
<path d="M91.1 219.5H96.5"/>
<path d="M91.1 181.5H96.5"/>
<path d="M91.1 142.5H96.5"/>
<path d="M91.1 104.5H96.5"/>
<path d="M91.1 65.5H96.5"/>
<path d="M91.1 27.5H96.5"/>
<path d="M91.1 679.5H96.5"/>
<path d="M1824.5 634.5H1829.9"/>
<path d="M1824.5 554.5H1829.9"/>
<path d="M1824.5 475.5H1829.9"/>
<path d="M1824.5 395.5H1829.9"/>
<path d="M1824.5 316.5H1829.9"/>
<path d="M1824.5 236.5H1829.9"/>
<path d="M1824.5 157.5H1829.9"/>
<path d="M1824.5 77.5H1829.9"/>
<path d="M1824.5 694.5H1829.9"/>
<path d="M1824.5 730.5H1829.9"/>
<path d="M1824.5 766.5H1829.9"/>
<path d="M1824.5 802.5H1829.9"/>
<path d="M1824.5 827.5H1829.9"/>
<path d="M1824.5 865.5H1829.9"/>
<path d="M1824.5 902.5H1829.9"/>
<path d="M1824.5 940.5H1829.9"/>
<path d="M229.5 943.5V948.9"/>
<path d="M366.5 943.5V948.9"/>
<path d="M517.5 943.5V948.9"/>
<path d="M660.5 943.5V948.9"/>
<path d="M804.5 943.5V948.9"/>
<path d="M955.5 943.5V948.9"/>
<path d="M1092.5 943.5V948.9"/>
<path d="M1249.5 943.5V948.9"/>
<path d="M1393.5 943.5V948.9"/>
<path d="M1537.5 943.5V948.9"/>
<path d="M1680.5 943.5V948.9"/>
</g>
<text x="66.48" y="684.00" font-size="14.17" textLength="19.02" lengthAdjust="spacingAndGlyphs" fill="#000">0M</text>
<text x="57.64" y="646.00" font-size="14.17" textLength="27.86" lengthAdjust="spacingAndGlyphs" fill="#000">25M</text>
<text x="57.64" y="608.00" font-size="14.17" textLength="27.86" lengthAdjust="spacingAndGlyphs" fill="#000">50M</text>
<text x="57.64" y="569.80" font-size="14.17" textLength="27.86" lengthAdjust="spacingAndGlyphs" fill="#000">75M</text>
<text x="48.80" y="531.00" font-size="14.17" textLength="36.70" lengthAdjust="spacingAndGlyphs" fill="#000">100M</text>
<text x="48.80" y="493.00" font-size="14.17" textLength="36.70" lengthAdjust="spacingAndGlyphs" fill="#000">125M</text>
<text x="48.80" y="454.80" font-size="14.17" textLength="36.70" lengthAdjust="spacingAndGlyphs" fill="#000">150M</text>
<text x="1834.40" y="639.20" font-size="14.17" textLength="17.07" lengthAdjust="spacingAndGlyphs" fill="#000">46</text>
<text x="1834.40" y="560.00" font-size="14.17" textLength="17.07" lengthAdjust="spacingAndGlyphs" fill="#000">48</text>
<text x="1834.40" y="480.40" font-size="14.17" textLength="17.07" lengthAdjust="spacingAndGlyphs" fill="#000">50</text>
<text x="1834.40" y="401.00" font-size="14.17" textLength="17.07" lengthAdjust="spacingAndGlyphs" fill="#000">52</text>
<text x="1834.40" y="321.20" font-size="14.17" textLength="17.07" lengthAdjust="spacingAndGlyphs" fill="#000">54</text>
<text x="1834.40" y="242.00" font-size="14.17" textLength="17.07" lengthAdjust="spacingAndGlyphs" fill="#000">56</text>
<text x="1834.40" y="162.20" font-size="14.17" textLength="17.07" lengthAdjust="spacingAndGlyphs" fill="#000">58</text>
<text x="1834.40" y="83.00" font-size="14.17" textLength="17.07" lengthAdjust="spacingAndGlyphs" fill="#000">60</text>
<text x="1834.40" y="699.80" font-size="14.17" textLength="17.07" lengthAdjust="spacingAndGlyphs" fill="#000">80</text>
<text x="1834.40" y="735.50" font-size="14.17" textLength="17.07" lengthAdjust="spacingAndGlyphs" fill="#000">60</text>
<text x="1834.40" y="770.90" font-size="14.17" textLength="17.07" lengthAdjust="spacingAndGlyphs" fill="#000">40</text>
<text x="1834.40" y="806.90" font-size="14.17" textLength="17.07" lengthAdjust="spacingAndGlyphs" fill="#000">20</text>
<text x="1834.40" y="831.90" font-size="14.17" textLength="17.07" lengthAdjust="spacingAndGlyphs" fill="#000">80</text>
<text x="1834.40" y="869.90" font-size="14.17" textLength="17.07" lengthAdjust="spacingAndGlyphs" fill="#000">60</text>
<text x="1834.40" y="906.90" font-size="14.17" textLength="17.07" lengthAdjust="spacingAndGlyphs" fill="#000">40</text>
<text x="1834.40" y="944.90" font-size="14.17" textLength="17.07" lengthAdjust="spacingAndGlyphs" fill="#000">20</text>
<polyline points="109.3,41.8 116.3,35 122.6,37.8 130.1,31.7" fill="none" stroke="#000" stroke-width="2.08" stroke-linecap="butt"/>
<text x="141.90" y="40.75" font-size="12.75" textLength="136.58" lengthAdjust="spacingAndGlyphs" fill="#000">MSFT (1 Day) C:59.27</text>
<g shape-rendering="crispEdges" stroke-width="1">
<rect x="107.5" y="56.5" width="8" height="4" fill="rgba(170,170,170,0.47)" stroke="rgba(150,150,150,0.85)"/>
<rect x="124.5" y="54.5" width="8" height="6" fill="rgba(170,170,170,0.47)" stroke="rgba(150,150,150,0.85)"/>
<rect x="116.5" y="52.5" width="8" height="8" fill="rgba(205,70,100,0.45)" stroke="rgba(212,40,80,0.85)"/>
</g>
<text x="141.90" y="59.50" font-size="12.75" textLength="47.46" lengthAdjust="spacingAndGlyphs" fill="#000">Volume</text>
<path d="M107 704.9H132" stroke="#d33258" stroke-width="2.08" stroke-linecap="square"/>
<text x="141.90" y="700.80" font-size="12.75" textLength="146.08" lengthAdjust="spacingAndGlyphs" fill="#000">MFI_MultipleInputs (14)</text>
<text x="141.90" y="715.80" font-size="12.75" textLength="59.81" lengthAdjust="spacingAndGlyphs" fill="#000">mfi 54.74</text>
<path d="M107 836.7H132" stroke="#d33258" stroke-width="2.08" stroke-linecap="square"/>
<text x="141.90" y="832.60" font-size="12.75" textLength="123.39" lengthAdjust="spacingAndGlyphs" fill="#000">MFI Close * 5.0 (14)</text>
<text x="141.90" y="847.80" font-size="12.75" textLength="59.81" lengthAdjust="spacingAndGlyphs" fill="#000">mfi 45.62</text>
<path d="M1821.5 97.5H1862.5V115.5H1821.5L1819.1 106.4Z" fill="rgba(255,255,255,0.9)" stroke="#000" stroke-width="1.05" stroke-linejoin="round"/>
<text x="1825.00" y="110.00" font-size="12.75" textLength="34.08" lengthAdjust="spacingAndGlyphs" fill="#000">59.27</text>
<path d="M1821.5 730.5H1862.5V748.5H1821.5L1819.1 739.5Z" fill="rgba(255,255,255,0.9)" stroke="#d33258" stroke-width="1.05" stroke-linejoin="round"/>
<text x="1825.00" y="743.10" font-size="12.75" textLength="34.08" lengthAdjust="spacingAndGlyphs" fill="#000">54.74</text>
<path d="M1821.5 882.5H1862.5V900.5H1821.5L1819.1 891.5Z" fill="rgba(255,255,255,0.9)" stroke="#d33258" stroke-width="1.05" stroke-linejoin="round"/>
<text x="1825.00" y="895.10" font-size="12.75" textLength="34.08" lengthAdjust="spacingAndGlyphs" fill="#000">45.62</text>
</svg>
</body></html>
